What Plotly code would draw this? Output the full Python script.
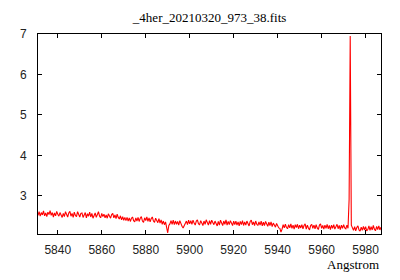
import numpy as np
import plotly.graph_objects as go

# Linear dispersion of the spectrum (FITS-like: start + step)
wl_start = 5831.0
wl_step = 0.5

flux = [
    2.52, 2.61, 2.50, 2.59, 2.53, 2.63, 2.51, 2.58, 2.49, 2.60, 2.54, 2.64, 2.52, 2.59, 2.48, 2.58, 2.51, 2.62, 2.55, 2.50,
    2.59, 2.50, 2.47, 2.57, 2.49, 2.61, 2.53, 2.48, 2.58, 2.62, 2.50, 2.57, 2.47, 2.60, 2.52, 2.49, 2.61, 2.55, 2.48, 2.57,
    2.58, 2.47, 2.54, 2.59, 2.46, 2.56, 2.50, 2.60, 2.48, 2.57, 2.45, 2.55, 2.58, 2.47, 2.56, 2.61, 2.50, 2.46, 2.57, 2.49,
    2.55, 2.46, 2.53, 2.45, 2.56, 2.48, 2.45, 2.54, 2.57, 2.46, 2.53, 2.44, 2.55, 2.47, 2.43, 2.51, 2.41, 2.49, 2.40, 2.47,
    2.39, 2.47, 2.38, 2.46, 2.37, 2.45, 2.48, 2.39, 2.36, 2.46, 2.38, 2.47, 2.37, 2.45, 2.49, 2.38, 2.35, 2.46, 2.39, 2.48,
    2.37, 2.46, 2.36, 2.44, 2.48, 2.38, 2.35, 2.45, 2.37, 2.34, 2.44, 2.33, 2.41, 2.30, 2.38, 2.29, 2.36, 2.24, 2.09, 2.27,
    2.31, 2.39, 2.30, 2.40, 2.29, 2.38, 2.30, 2.37, 2.28, 2.39, 2.29, 2.25, 2.21, 2.28, 2.31, 2.38, 2.29, 2.40, 2.31, 2.39,
    2.30, 2.40, 2.33, 2.28, 2.38, 2.41, 2.31, 2.29, 2.39, 2.33, 2.27, 2.38, 2.30, 2.41, 2.31, 2.28, 2.39, 2.30, 2.40, 2.32,
    2.29, 2.38, 2.30, 2.26, 2.37, 2.28, 2.40, 2.31, 2.27, 2.38, 2.30, 2.41, 2.28, 2.37, 2.29, 2.39, 2.30, 2.27, 2.38, 2.29,
    2.38, 2.28, 2.36, 2.26, 2.37, 2.29, 2.39, 2.27, 2.36, 2.28, 2.38, 2.30, 2.26, 2.37, 2.40, 2.29, 2.36, 2.27, 2.38, 2.30,
    2.27, 2.36, 2.28, 2.38, 2.26, 2.35, 2.27, 2.37, 2.29, 2.25, 2.35, 2.27, 2.36, 2.24, 2.33, 2.26, 2.23, 2.32, 2.24, 2.21,
    2.20, 2.11, 2.18, 2.29, 2.21, 2.30, 2.22, 2.19, 2.29, 2.21, 2.31, 2.20, 2.28, 2.18, 2.29, 2.22, 2.30, 2.19, 2.28, 2.21,
    2.29, 2.19, 2.27, 2.31, 2.18, 2.28, 2.21, 2.16, 2.27, 2.30, 2.20, 2.28, 2.19, 2.29, 2.21, 2.17, 2.28, 2.31, 2.20, 2.27,
    2.18, 2.28, 2.20, 2.30, 2.19, 2.27, 2.17, 2.28, 2.20, 2.29, 2.18, 2.26, 2.30, 2.19, 2.27, 2.17, 2.28, 2.20, 2.29, 2.21,
    2.19, 2.28, 2.20, 2.92, 6.95, 2.28, 2.19, 2.15, 2.24, 2.14, 2.22, 2.26, 2.16, 2.13, 2.23, 2.15, 2.25, 2.16, 2.24, 2.14,
    2.17, 2.26, 2.15, 2.24, 2.16, 2.27, 2.18, 2.14, 2.25, 2.17, 2.26, 2.16, 2.23,
]
wavelength = wl_start + wl_step * np.arange(len(flux))

x_ticks = [5840, 5860, 5880, 5900, 5920, 5940, 5960, 5980]
y_ticks = [3, 4, 5, 6, 7]
title_text = "_4her_20210320_973_38.fits"
x_label = "Angstrom"

fig = go.Figure(go.Scatter(x=wavelength, y=flux, mode="lines",
                           line=dict(color="#ff0000", width=1.1),
                           showlegend=False, hoverinfo="skip"))

axis_common = dict(showline=True, linecolor="black", linewidth=1, mirror="ticks",
                   ticks="inside", ticklen=4, tickcolor="black", tickwidth=1,
                   showgrid=False, zeroline=False,
                   tickfont=dict(family="Liberation Sans, Arial, sans-serif", size=12, color="#222222"))

fig.update_layout(
    width=400, height=280,
    margin=dict(l=38, r=19, t=34, b=46),
    paper_bgcolor="white", plot_bgcolor="white",
    title=dict(text=title_text, x=0.524, xanchor="center", y=1 - 17 / 280, yanchor="middle",
               font=dict(family="Liberation Serif, Times New Roman, serif", size=13, color="black")),
    xaxis=dict(range=[5831, 5987], tickvals=x_ticks, ticklabelstandoff=5, **axis_common),
    yaxis=dict(range=[2.06, 7.0], tickvals=y_ticks, ticklabelstandoff=8, **axis_common),
    annotations=[dict(text=x_label, xref="paper", yref="paper", x=1.0, y=-0.15,
                      xanchor="right", yanchor="middle", showarrow=False,
                      font=dict(family="Liberation Serif, Times New Roman, serif", size=13, color="black"))],
)

fig.write_html("out.html")
